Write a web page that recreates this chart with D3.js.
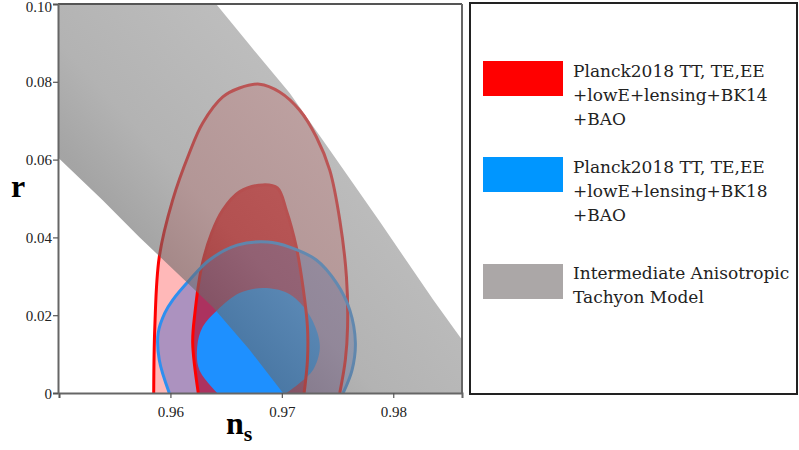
<!DOCTYPE html>
<html lang="en">
<head>
<meta charset="UTF-8">
<title>r vs ns</title>
<style>
  * { margin: 0; padding: 0; }
  body { background: #fff; width: 799px; height: 450px; overflow: hidden; }
  svg { display: block; }
  .legend text { font-family: "DejaVu Serif", serif; font-size: 17px; fill: #222; }
</style>
</head>
<body>
<svg id="chart" width="799" height="450"></svg>
<script src="https://d3js.org/d3.v7.min.js"></script>
<script>
// axis ticks
const nsTicks = [0.95, 0.96, 0.97, 0.98];
const nsTickLabels = ['', '0.96', '0.97', '0.98'];
const rTicks = [0, 0.02, 0.04, 0.06, 0.08, 0.10];
const rTickLabels = ['0', '0.02', '0.04', '0.06', '0.08', '0.10'];

// Planck2018 + BK14 contours [ns, r]
const bk14Outer = [
  [0.9585, 0], [0.9586, 0.0170], [0.9590, 0.0350], [0.9602, 0.0496], [0.9617, 0.0617],
  [0.9629, 0.0694], [0.9647, 0.0761], [0.9662, 0.0784], [0.9680, 0.0794], [0.9698, 0.0774],
  [0.9716, 0.0727], [0.9731, 0.0658], [0.9743, 0.0573], [0.9752, 0.0445], [0.9758, 0.0298],
  [0.9759, 0.0170], [0.9757, 0.0085], [0.9752, 0]
];
const bk14Inner = [
  [0.9625, 0], [0.9620, 0.0129], [0.9622, 0.0206], [0.9628, 0.0324], [0.9637, 0.0411],
  [0.9647, 0.0470], [0.9662, 0.0517], [0.9683, 0.0535], [0.9696, 0.0527], [0.9704, 0.0470],
  [0.9713, 0.0375], [0.9719, 0.0272], [0.9723, 0.0170], [0.9723, 0.0085], [0.9720, 0]
];
// Planck2018 + BK18 contours
const bk18Outer = [
  [0.9599, 0], [0.9590, 0.0085], [0.9589, 0.0154], [0.9595, 0.0206], [0.9602, 0.0239],
  [0.9617, 0.0290], [0.9635, 0.0342], [0.9660, 0.0380], [0.9687, 0.0388], [0.9707, 0.0375],
  [0.9731, 0.0342], [0.9749, 0.0283], [0.9761, 0.0213], [0.9766, 0.0129], [0.9763, 0.0059],
  [0.9755, 0]
];
const bk18Inner = [
  [0.9642, 0], [0.9626, 0.0059], [0.9624, 0.0118], [0.9629, 0.0170], [0.9642, 0.0213],
  [0.9662, 0.0257], [0.9683, 0.0270], [0.9705, 0.0257], [0.9722, 0.0213], [0.9732, 0.0154],
  [0.9734, 0.0111], [0.9728, 0.0059], [0.9716, 0.0026], [0.9704, 0]
];
// tachyon model band edges
const tachyonUpper = [
  [0.9641, 0.1000], [0.9671, 0.0895], [0.9707, 0.0771], [0.9743, 0.0625],
  [0.9788, 0.0440], [0.9836, 0.0239], [0.9862, 0.0136], [0.9887, 0.0036]
];
const tachyonLower = [
  [0.9701, 0], [0.9671, 0.0111], [0.9638, 0.0221], [0.9572, 0.0401],
  [0.9539, 0.0496], [0.9490, 0.0630]
];

const legendNames = [
  ['Planck2018 TT, TE,EE', '+lowE+lensing+BK14', '+BAO'],
  ['Planck2018 TT, TE,EE', '+lowE+lensing+BK18', '+BAO'],
  ['Intermediate Anisotropic', 'Tachyon Model']
];
const legendColors = ['#ff0000', '#0096ff', '#aba7a7'];

const svg = d3.select('#chart');
const x = d3.scaleLinear().domain([0.95, 0.98617]).range([59, 462]);
const y = d3.scaleLinear().domain([0, 0.1]).range([393, 4]);

const defs = svg.append('defs');
defs.append('clipPath').attr('id', 'plotClip').append('rect')
  .attr('x', x(0.95) - 1).attr('y', y(0.1)).attr('width', x(0.98617) - x(0.95) + 1).attr('height', y(0) - y(0.1));

const grad = defs.append('linearGradient').attr('id', 'tachGrad')
  .attr('gradientUnits', 'userSpaceOnUse')
  .attr('x1', x(0.9578)).attr('y1', y(0.038))
  .attr('x2', x(0.9715)).attr('y2', y(0.0735));
grad.append('stop').attr('offset', 0).attr('stop-color', '#686868');
grad.append('stop').attr('offset', 0.35).attr('stop-color', '#808080');
grad.append('stop').attr('offset', 1).attr('stop-color', '#909090');

const plot = svg.append('g').attr('clip-path', 'url(#plotClip)');

const fillLine = d3.line().x(d => x(d[0])).y(d => y(d[1])).curve(d3.curveCatmullRom.alpha(0.5));
const closed = pts => fillLine(pts) + 'Z';

// fills
plot.append('path').attr('d', closed(bk14Outer)).attr('fill', '#ffb8b8');
plot.append('path').attr('d', closed(bk14Inner)).attr('fill', '#ff0a0a');
plot.append('path').attr('d', closed(bk18Outer)).attr('fill', 'rgb(70,100,200)').attr('fill-opacity', 0.45);
plot.append('path').attr('d', closed(bk18Inner)).attr('fill', '#1e90ff');

// contour lines
plot.append('path').attr('d', fillLine(bk14Outer)).attr('fill', 'none').attr('stroke', '#ff0000').attr('stroke-width', 3);
plot.append('path').attr('d', fillLine(bk14Inner)).attr('fill', 'none').attr('stroke', '#ff0000').attr('stroke-width', 3);
plot.append('path').attr('d', fillLine(bk18Outer)).attr('fill', 'none').attr('stroke', '#2f8fef').attr('stroke-width', 3);

// tachyon band on top
const [x0, x1] = x.domain();
const [, y1] = y.domain();
const band = [[x0 - 0.001, y1], ...tachyonUpper, [x1 + 0.003, 0], ...tachyonLower, [x0 - 0.001, y1]];
plot.append('path')
  .attr('d', d3.line().x(d => x(d[0])).y(d => y(d[1]))(band) + 'Z')
  .attr('fill', 'url(#tachGrad)').attr('fill-opacity', 0.6);

// frame
svg.append('line').attr('x1', x(0.95) - 1).attr('x2', x(0.98617)).attr('y1', y(0.1)).attr('y2', y(0.1))
  .attr('stroke', '#555').attr('stroke-width', 2);
svg.append('line').attr('x1', x(0.98617)).attr('x2', x(0.98617)).attr('y1', y(0.1)).attr('y2', y(0) + 1)
  .attr('stroke', '#666').attr('stroke-width', 2);

// axes
const xAxis = svg.append('g').attr('transform', `translate(0,${y(0)})`)
  .call(d3.axisBottom(x).tickValues(nsTicks).tickSize(5).tickFormat((d, i) => nsTickLabels[i]));
const yAxis = svg.append('g').attr('transform', `translate(${x(0.95) - 1},0)`)
  .call(d3.axisLeft(y).tickValues(rTicks).tickSize(5).tickFormat((d, i) => rTickLabels[i]));
[xAxis, yAxis].forEach(a => {
  a.attr('font-family', '"Liberation Serif", serif').attr('font-size', 15);
  a.select('.domain').attr('stroke', '#666').attr('stroke-width', 2);
  a.selectAll('.tick line').attr('stroke', '#555').attr('stroke-width', 1.2);
  a.selectAll('.tick text').attr('fill', '#222');
});
xAxis.selectAll('.tick text').attr('dy', '1.05em');
// top label sits against the page edge, nudge it just inside
yAxis.selectAll('.tick text').attr('x', -6).attr('dy', d => d === 0.10 ? '0.5em' : '0.34em');

// axis titles
svg.append('text').attr('x', 11).attr('y', 197)
  .style('font-family', '"Liberation Serif", serif').style('font-weight', 'bold').style('font-size', '32px')
  .text('r');
const nsT = svg.append('text').attr('x', 226).attr('y', 434)
  .style('font-family', '"Liberation Serif", serif').style('font-weight', 'bold').style('font-size', '32px');
nsT.append('tspan').text('n');
nsT.append('tspan').attr('dy', 7).style('font-size', '22px').text('s');

// legend
const leg = svg.append('g').attr('class', 'legend');
leg.append('rect').attr('x', 470).attr('y', 3).attr('width', 327).attr('height', 391)
  .attr('fill', 'none').attr('stroke', '#222').attr('stroke-width', 2);
const swatchY = [61, 157, 264];
const textY = [77, 173, 279];
legendNames.forEach((lines, i) => {
  leg.append('rect').attr('x', 483).attr('y', swatchY[i]).attr('width', 80).attr('height', 35)
    .attr('fill', legendColors[i]);
  const t = leg.append('text').attr('x', 573).attr('y', textY[i]);
  lines.forEach((s, j) => t.append('tspan').attr('x', 573).attr('dy', j ? 24.2 : 0).text(s));
});
</script>
</body>
</html>
